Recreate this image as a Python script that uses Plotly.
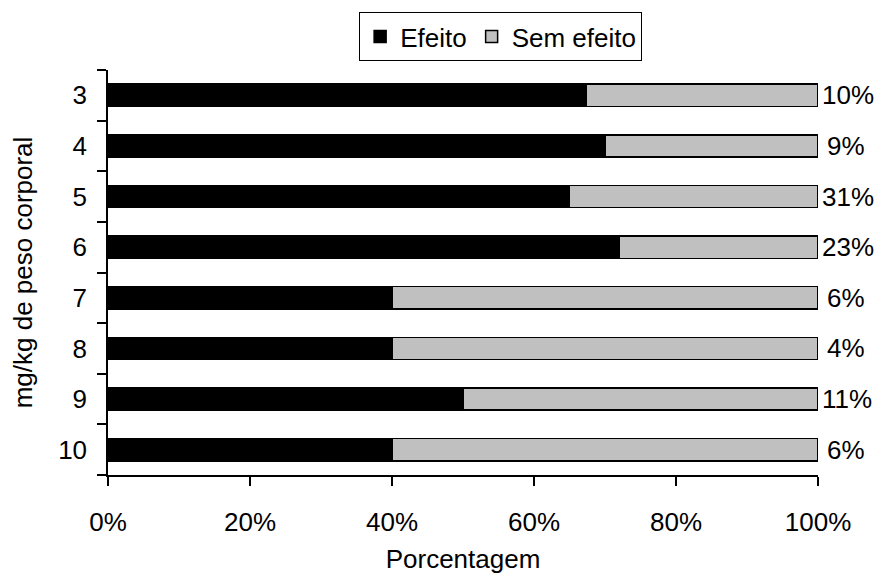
import plotly.graph_objects as go

categorias = ["3", "4", "5", "6", "7", "8", "9", "10"]
efeito = [67.3, 70.1, 65.0, 72.0, 40.0, 40.0, 50.0, 40.0]
sem_efeito = [100 - v for v in efeito]
rotulos = ["10%", "9%", "31%", "23%", "6%", "4%", "11%", "6%"]
xticks = [0, 20, 40, 60, 80, 100]
xticklabels = ["0%", "20%", "40%", "60%", "80%", "100%"]

FONT = "Liberation Sans, Arial, sans-serif"
FS = 26

fig = go.Figure()
fig.add_trace(go.Bar(
    y=categorias, x=efeito, orientation="h", name="Efeito",
    marker=dict(color="black", line=dict(color="black", width=1.5)),
    width=0.44,
))
fig.add_trace(go.Bar(
    y=categorias, x=sem_efeito, orientation="h", name="Sem efeito",
    marker=dict(color="#c0c0c0", line=dict(color="black", width=1.5)),
    width=0.44,
))

for i, r in enumerate(rotulos):
    fig.add_annotation(x=100, y=i, xref="x", yref="y", text=r, showarrow=False,
                       xanchor="left", xshift=2 if len(r) > 2 else 7,
                       font=dict(family=FONT, size=FS, color="black"))

fig.update_layout(
    barmode="stack",
    width=884, height=583,
    margin=dict(l=100, r=74, t=62, b=116, autoexpand=False),
    paper_bgcolor="white", plot_bgcolor="white",
    font=dict(family=FONT, size=FS, color="black"),
    showlegend=True,
    legend=dict(orientation="h", x=0.553, xanchor="center", y=1.143, yanchor="top",
                traceorder="normal",
                bordercolor="black", borderwidth=1, bgcolor="white",
                font=dict(family=FONT, size=FS), tracegroupgap=0),
    xaxis=dict(range=[0, 100], tickvals=xticks, ticktext=xticklabels, automargin=False,
               showgrid=False, zeroline=False, showline=True, linecolor="black", linewidth=1.5,
               ticks="outside", ticklen=9, tickcolor="black", tickwidth=1.5,
               ticklabelstandoff=14,
               title=dict(text="Porcentagem", standoff=14, font=dict(family=FONT, size=FS))),
    yaxis=dict(type="category", autorange="reversed", showgrid=False, zeroline=False,
               automargin=False, tickmode="array", tickvals=categorias, ticktext=categorias,
               showline=True, linecolor="black", linewidth=1.5,
               ticks="outside", ticklen=9, tickcolor="black", tickwidth=1.5,
               tickson="boundaries", ticklabelstandoff=14,
               title=dict(text="mg/kg de peso corporal", standoff=26, font=dict(family=FONT, size=FS))),
)

fig.write_html("out.html")
